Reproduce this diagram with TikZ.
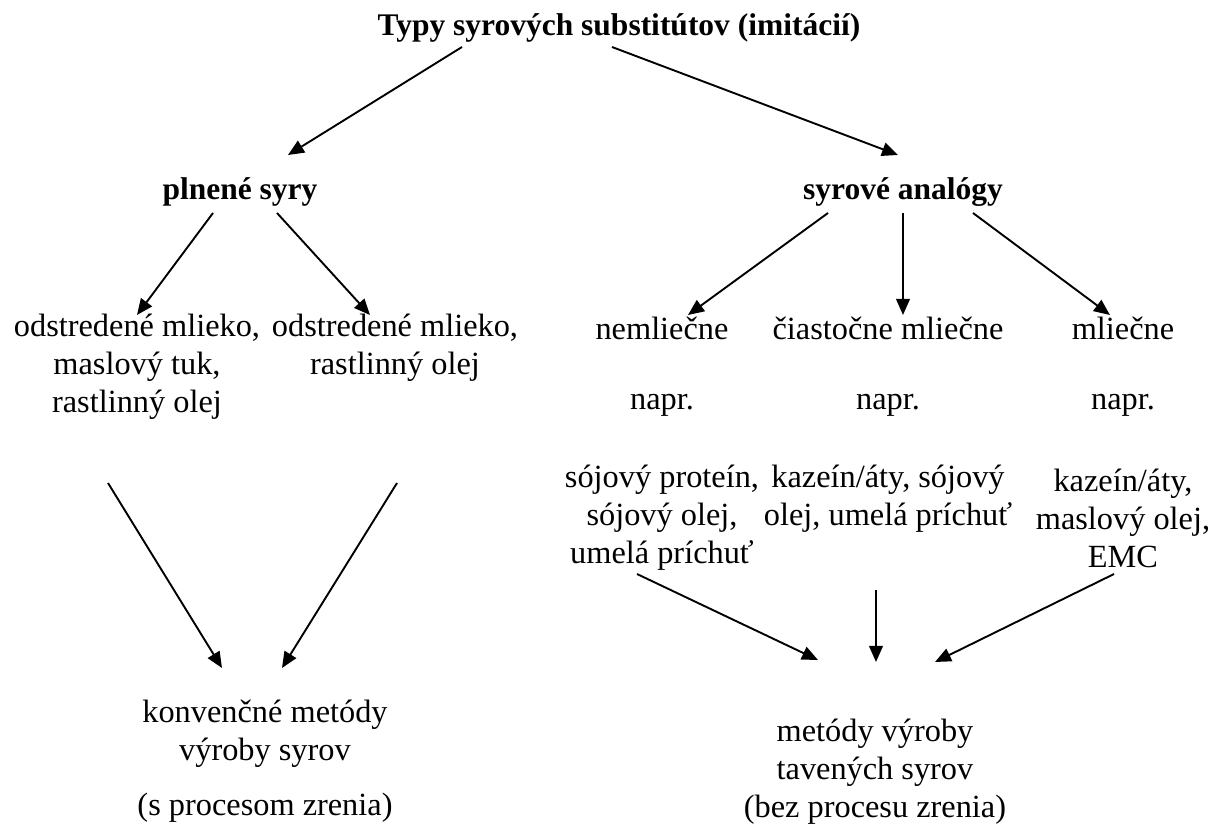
\documentclass[tikz,border=0pt]{standalone}
\usepackage{fontspec}
\setmainfont{Liberation Serif}
\usetikzlibrary{arrows.meta}
\begin{document}
\begin{tikzpicture}[x=0.025cm, y=-0.025cm, line join=round,
		txt/.style={align=center, inner sep=0pt, font=\fontsize{23}{27}\selectfont},
		hdr/.style={txt, font=\fontsize{22.4}{27}\selectfont\bfseries},
		arr/.style={-{Triangle[length=0.4cm, width=0.34cm]}, line width=1.35pt}]
	\useasboundingbox (0,0) rectangle (1218,827);
	
	\node[hdr] (title) at (619,28) {Typy syrových substitútov (imitácií)};
	\node[hdr] (plnene) at (240,192) {plnené syry};
	\node[hdr] (analogy) at (903,192) {syrové analógy};
	
	\node[txt] (zm1) at (137,367) {odstredené mlieko,\\maslový tuk,\\rastlinný olej};
	\node[txt] (zm2) at (395,347.5) {odstredené mlieko,\\rastlinný olej};
	
	\node[txt] (nem) at (662,328) {nemliečne};
	\node[txt] (nemEx) at (662,405) {napr.};
	\node[txt] (nemIng) at (662,518) {sójový proteín,\\sójový olej,\\umelá príchuť};
	
	\node[txt] (ciast) at (888,328) {čiastočne mliečne};
	\node[txt] (ciastEx) at (888,405) {napr.};
	\node[txt] (ciastIng) at (888,499) {kazeín/áty, sójový\\olej, umelá príchuť};
	
	\node[txt] (mliec) at (1123,328) {mliečne};
	\node[txt] (mliecEx) at (1123,405) {napr.};
	\node[txt] (mliecIng) at (1123,518) {kazeín/áty,\\maslový olej,\\EMC};
	
	\node[txt] (konv) at (265,734) {konvenčné metódy\\výroby syrov};
	\node[txt] (konvZr) at (265,808) {(s procesom zrenia)};
	\node[txt] (tav) at (875,772) {metódy výroby\\tavených syrov\\(bez procesu zrenia)};
	
	% šípky
	\draw[arr] ([shift={(-157,19)}]title.center) -- ([shift={(48,-37)}]plnene.center);
	\draw[arr] ([shift={(-7,19)}]title.center) -- ([shift={(-5,-37)}]analogy.center);
	\draw[arr] ([shift={(-27,21)}]plnene.center) -- ([shift={(0,-52)}]zm1.center);
	\draw[arr] ([shift={(37,21)}]plnene.center) -- ([shift={(-25,-32.5)}]zm2.center);
	\draw[arr] ([shift={(-75,21)}]analogy.center) -- ([shift={(26,-13)}]nem.center);
	\draw[arr] ([shift={(0,21)}]analogy.center) -- ([shift={(15,-13)}]ciast.center);
	\draw[arr] ([shift={(70,21)}]analogy.center) -- ([shift={(-13,-13)}]mliec.center);
	\draw[arr] ([shift={(-29,116)}]zm1.center) -- ([shift={(-43,-66)}]konv.center);
	\draw[arr] ([shift={(2,135.5)}]zm2.center) -- ([shift={(17,-66)}]konv.center);
	\draw[arr] ([shift={(-25,56)}]nemIng.center) -- ([shift={(-57,-112)}]tav.center);
	\draw[arr] ([shift={(-12,91)}]ciastIng.center) -- ([shift={(1,-110)}]tav.center);
	\draw[arr] ([shift={(-9,56)}]mliecIng.center) -- ([shift={(60,-110)}]tav.center);
\end{tikzpicture}
\end{document}
